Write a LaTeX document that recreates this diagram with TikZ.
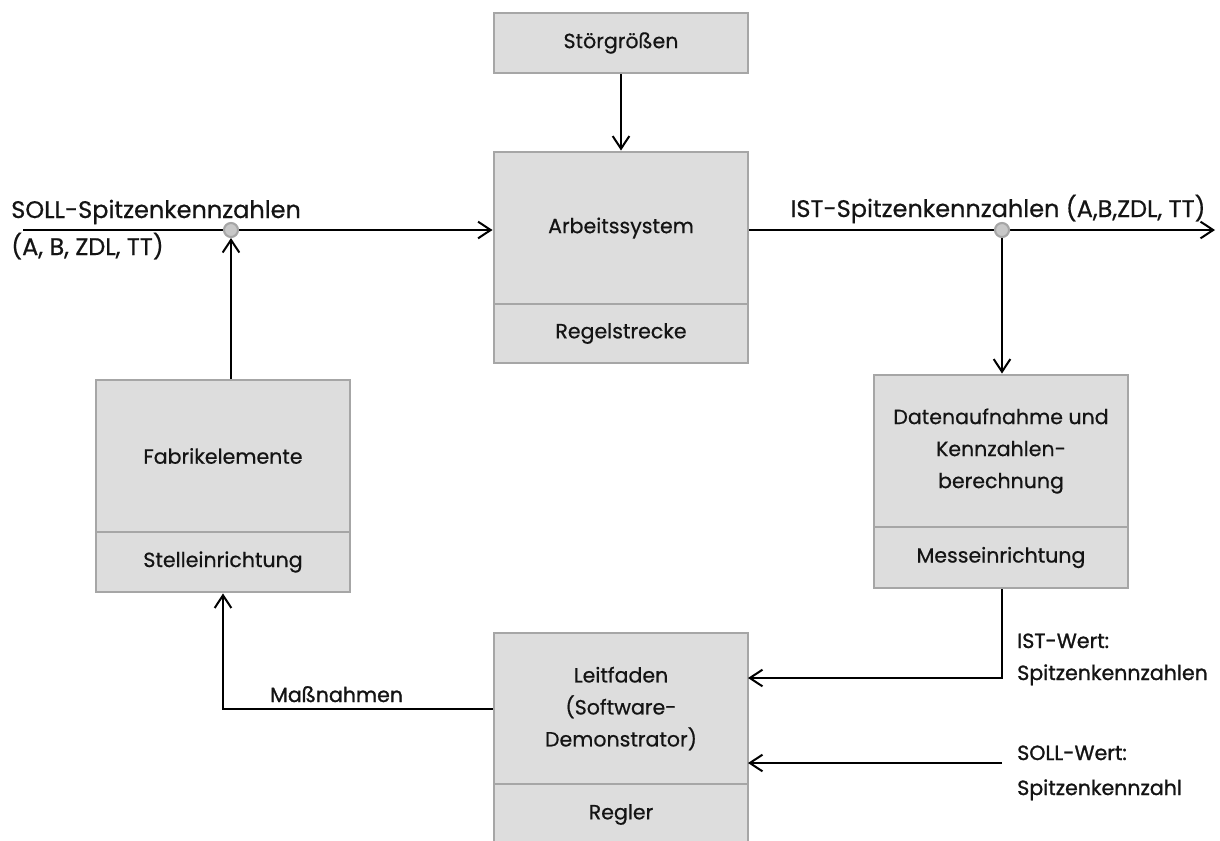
\documentclass[tikz,border=0pt]{standalone}
\usepackage{fontspec}
\setmainfont[FakeBold=0.6]{Poppins}
\newfontfamily\lblfont[FakeBold=1.2]{Poppins}
\usetikzlibrary{arrows.meta}

\definecolor{boxfill}{HTML}{DDDDDD}
\definecolor{boxline}{HTML}{A6A6A6}
\definecolor{dotfill}{HTML}{C8C8C8}
\definecolor{txt}{HTML}{141414}

\tikzset{
  block/.style={draw=boxline, fill=boxfill, line width=2.2pt, inner sep=0pt,
    minimum width=190.5pt, align=center, text=txt,
    font=\fontsize{15.4}{24}\selectfont},
  conn/.style={draw=black, line width=1.5pt,
    -{Straight Barb[length=9.5pt,width=12.5pt,line width=1.5pt]}},
  junction/.style={circle, draw=boxline, fill=dotfill, line width=1.6pt,
    minimum size=10.5pt, inner sep=0pt},
  label/.style={inner sep=0pt, text=txt, font=\fontsize{18}{24}\selectfont},
  flowlabel/.style={inner sep=0pt, text=txt, font=\lblfont\fontsize{15.4}{24}\selectfont},
}

\begin{document}
\begin{tikzpicture}[x=0.75pt, y=-0.75pt]
  \useasboundingbox (0,0) rectangle (1220,840);

  % boxes: upper part with content, lower part with the role in the loop
  \node[block, minimum height=45pt]   (stoer) at (621,43)    {Störgrößen};

  \node[block, minimum height=114pt]  (arb)   at (621,228)   {Arbeitssystem};
  \node[block, minimum height=44.25pt](arbL)  at (621,333.5) {Regelstrecke};

  \node[block, minimum height=114pt]  (fab)   at (223,456)   {Fabrikelemente};
  \node[block, minimum height=45pt]   (fabL)  at (223,562)   {Stelleinrichtung};

  \node[block, minimum height=114pt]  (dat)   at (1001,451)  {Datenaufnahme und\\Kennzahlen-\\berechnung};
  \node[block, minimum height=45.75pt](datL)  at (1001,557.5){Messeinrichtung};

  \node[block, minimum height=113.25pt](leit) at (621,708.5) {Leitfaden\\(Software-\\Demonstrator)};
  \node[block, minimum height=45.75pt](leitL) at (621,814.5) {Regler};

  % free ends and entry points of the signal lines
  \coordinate (sollstart) at (23,230);
  \coordinate (istend)    at (1215,230);
  \coordinate (leitIST)   at (748,678);
  \coordinate (leitSOLL)  at (748,763);
  \coordinate (sollsrc)   at (1002,763);

  % main signal path
  \draw[conn]  (sollstart) -- (sollstart -| arb.west);
  \draw[conn]  (arb.east |- istend) -- (istend);
  \draw[conn]  (stoer.south) -- (arb.north);

  % branch points on the main signal lines
  \node[junction] (j1) at (231,230) {};
  \node[junction] (j2) at (1002,230) {};

  % feedback loop
  \draw[conn]  (j2.south) -- (j2.south |- dat.north);
  \draw[conn]  (j1.south |- fab.north) -- (j1.south);
  \draw[conn]  (datL.south -| j2) |- (leitIST);
  \draw[conn]  (sollsrc) -- (leitSOLL);
  \draw[conn]  (leit.west) -| (fabL.south);

  % signal labels
  \node[label, anchor=base west] (lsoll1) at (11,218) {SOLL-Spitzenkennzahlen};
  \node[label, anchor=base west] (lsoll2) at (11,255) {(A, B, ZDL, TT)};
  \node[label, anchor=base]      (list)   at (998,217) {IST-Spitzenkennzahlen (A,B,ZDL, TT)};

  \node[flowlabel, anchor=base west] (lmass) at (270,702) {Maßnahmen};
  \node[flowlabel, anchor=base west] (list1) at (1017,648) {IST-Wert:};
  \node[flowlabel, anchor=base west] (list2) at (1017,680) {Spitzenkennzahlen};
  \node[flowlabel, anchor=base west] (lsw1)  at (1017,760) {SOLL-Wert:};
  \node[flowlabel, anchor=base west] (lsw2)  at (1017,795) {Spitzenkennzahl};
\end{tikzpicture}
\end{document}
